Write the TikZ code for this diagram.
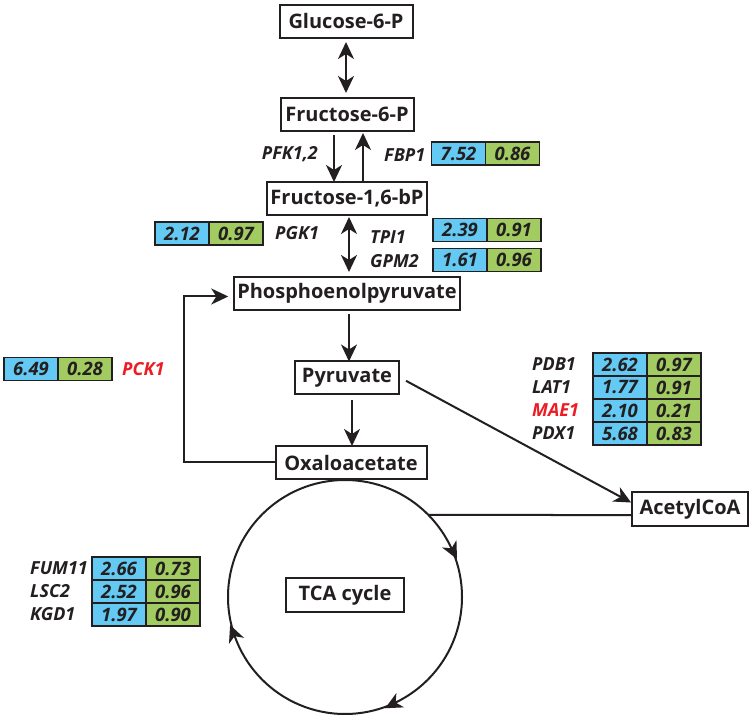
\documentclass[tikz,border=0pt]{standalone}
\usepackage{fontspec}
\setmainfont{Open Sans}
\usetikzlibrary{positioning,arrows.meta,decorations.markings}
\definecolor{ink}{RGB}{35,31,32}
\definecolor{cellblue}{RGB}{100,202,244}
\definecolor{cellgreen}{RGB}{162,203,98}
\definecolor{genered}{RGB}{237,28,36}
\tikzset{
    metab/.style={draw=ink, line width=2pt, rectangle, minimum height=33pt,
        inner xsep=3pt, outer sep=0pt, text=ink,
        font=\fontsize{20}{24}\selectfont\bfseries}
}
\tikzset{
    cell/.style={draw=ink, line width=1.8pt, minimum height=23pt,
        minimum width=54pt, inner sep=0pt, outer sep=0pt, text=ink,
        font=\fontsize{18.5}{22}\selectfont\bfseries\itshape},
    bluecell/.style={cell, fill=cellblue},
    greencell/.style={cell, fill=cellgreen},
    gene/.style={inner sep=0pt, text=ink,
        font=\fontsize{18}{22}\selectfont\bfseries\itshape}
}
\tikzset{
    flow/.style={draw=ink, line width=2pt, -{Stealth[length=17pt,width=16pt,inset=5pt]}},
    both/.style={flow, {Stealth[length=17pt,width=16pt,inset=5pt]}-{Stealth[length=17pt,width=16pt,inset=5pt]}},
    ring/.style={draw=ink, line width=2pt, postaction={decorate},
        decoration={markings,
        mark=at position 0.075 with {\arrow{Stealth[reversed,length=17pt,width=16pt,inset=5pt]}},
        mark=at position 0.561 with {\arrow{Stealth[reversed,length=17pt,width=16pt,inset=5pt]}},
        mark=at position 0.828 with {\arrow{Stealth[reversed,length=17pt,width=16pt,inset=5pt]}}}}
}

\begin{document}
\begin{tikzpicture}[x=1pt, y=1pt]
	\useasboundingbox (0,0) rectangle (755,721);

	\node (g6p) [metab, minimum width=133pt] at (346,699.5) {Glucose-6-P};
	\node (f6p) [metab, minimum width=133pt] at (347,606.5) {Fructose-6-P};
	\node (f16) [metab, minimum width=157pt] at (347,522.5) {Fructose-1,6-bP};
	\node (pep) [metab, minimum width=218pt] at (347,427.5) {Phosphoenolpyruvate};
	\node (pyr) [metab, minimum width=104pt] at (347,343) {Pyruvate};
	\node (oaa) [metab, minimum width=151pt] at (351,258.5) {Oxaloacetate};
	\node (acoa) [metab, minimum width=116pt, minimum height=34pt] at (690,212) {AcetylCoA};
	\node (tca) [metab, minimum width=118pt, minimum height=34pt] at (345,126) {TCA cycle};
	\coordinate (cyc) at (345,124);
	\coordinate (turn) at (184,258.5);

	\node (pfk) [gene, anchor=east] at (318,567) {PFK1,2};
	\node (fbp) [gene, anchor=west] at (384,566) {FBP1};
	\node (fbpb) [bluecell] at (458.5,567.5) {7.52};
	\node (fbpg) [greencell, right=0pt of fbpb] {0.86};

	\node (pgkb) [bluecell] at (182,487.5) {2.12};
	\node (pgkg) [greencell, right=0pt of pgkb] {0.97};
	\node (pgk) [gene, anchor=west] at (275,488) {PGK1};
	\node (tpi) [gene, anchor=west] at (370,484) {TPI1};
	\node (gpm) [gene, anchor=west] at (370,460) {GPM2};
	\node (tpib) [bluecell] at (460,491) {2.39};
	\node (tpig) [greencell, right=0pt of tpib] {0.91};
	\node (gpmb) [bluecell] at (460,461) {1.61};
	\node (gpmg) [greencell, right=0pt of gpmb] {0.96};

	\node (pckb) [bluecell] at (31,352) {6.49};
	\node (pckg) [greencell, right=0pt of pckb] {0.28};
	\node (pck) [gene, anchor=west, text=genered] at (122,352) {PCK1};

	\node (pdbb) [bluecell] at (620,356.5) {2.62};
	\node (pdbg) [greencell, right=0pt of pdbb] {0.97};
	\node (latb) [bluecell, below=0pt of pdbb] {1.77};
	\node (latg) [greencell, right=0pt of latb] {0.91};
	\node (maeb) [bluecell, below=0pt of latb] {2.10};
	\node (maeg) [greencell, right=0pt of maeb] {0.21};
	\node (pdxb) [bluecell, below=0pt of maeb] {5.68};
	\node (pdxg) [greencell, right=0pt of pdxb] {0.83};
	\node (pdb) [gene, anchor=west] at (532,356.5) {PDB1};
	\node (lat) [gene, anchor=west] at (532,333.5) {LAT1};
	\node (mae) [gene, anchor=west, text=genered] at (532,310.5) {MAE1};
	\node (pdx) [gene, anchor=west] at (532,287.5) {PDX1};

	\node (fumb) [bluecell] at (119,152.5) {2.66};
	\node (fumg) [greencell, right=0pt of fumb] {0.73};
	\node (lscb) [bluecell, below=0pt of fumb] {2.52};
	\node (lscg) [greencell, right=0pt of lscb] {0.96};
	\node (kgdb) [bluecell, below=0pt of lscb] {1.97};
	\node (kgdg) [greencell, right=0pt of kgdb] {0.90};
	\node (fum) [gene, anchor=west] at (30,152.5) {FUM11};
	\node (lsc) [gene, anchor=west] at (30,129.5) {LSC2};
	\node (kgd) [gene, anchor=west] at (30,106.5) {KGD1};

	\draw[both, shorten <=4pt, shorten >=5pt] (g6p.south) -- ([xshift=-1pt]f6p.north);
	\draw[flow, shorten <=4pt] ([xshift=-13pt]f6p.south) -- ([xshift=-13pt]f16.north);
	\draw[flow, shorten >=2pt] ([xshift=16pt]f16.north) -- ([xshift=16pt]f6p.south);
	\draw[both, shorten <=2pt, shorten >=5pt] ([xshift=2pt]f16.south) -- ([xshift=2pt]pep.north);
	\draw[flow, shorten <=4pt] ([xshift=2pt]pep.south) -- ([xshift=2pt]pyr.north);
	\draw[flow, shorten <=6pt] ([xshift=5pt]pyr.south) -- ([xshift=1pt]oaa.north);
	\draw[flow, shorten >=6pt] (oaa.west) -- (turn) |- ([yshift=-3pt]pep.west);
	\draw[flow, shorten <=8pt, shorten >=1pt] ([yshift=1pt]pyr.east) -- ([yshift=6pt]acoa.west);
	\draw[draw=ink, line width=2pt] ([yshift=-6pt]acoa.west) -- ([shift={(44.5:117pt)}]cyc);
	\draw[ring] (cyc) circle[radius=117pt];
\end{tikzpicture}
\end{document}
